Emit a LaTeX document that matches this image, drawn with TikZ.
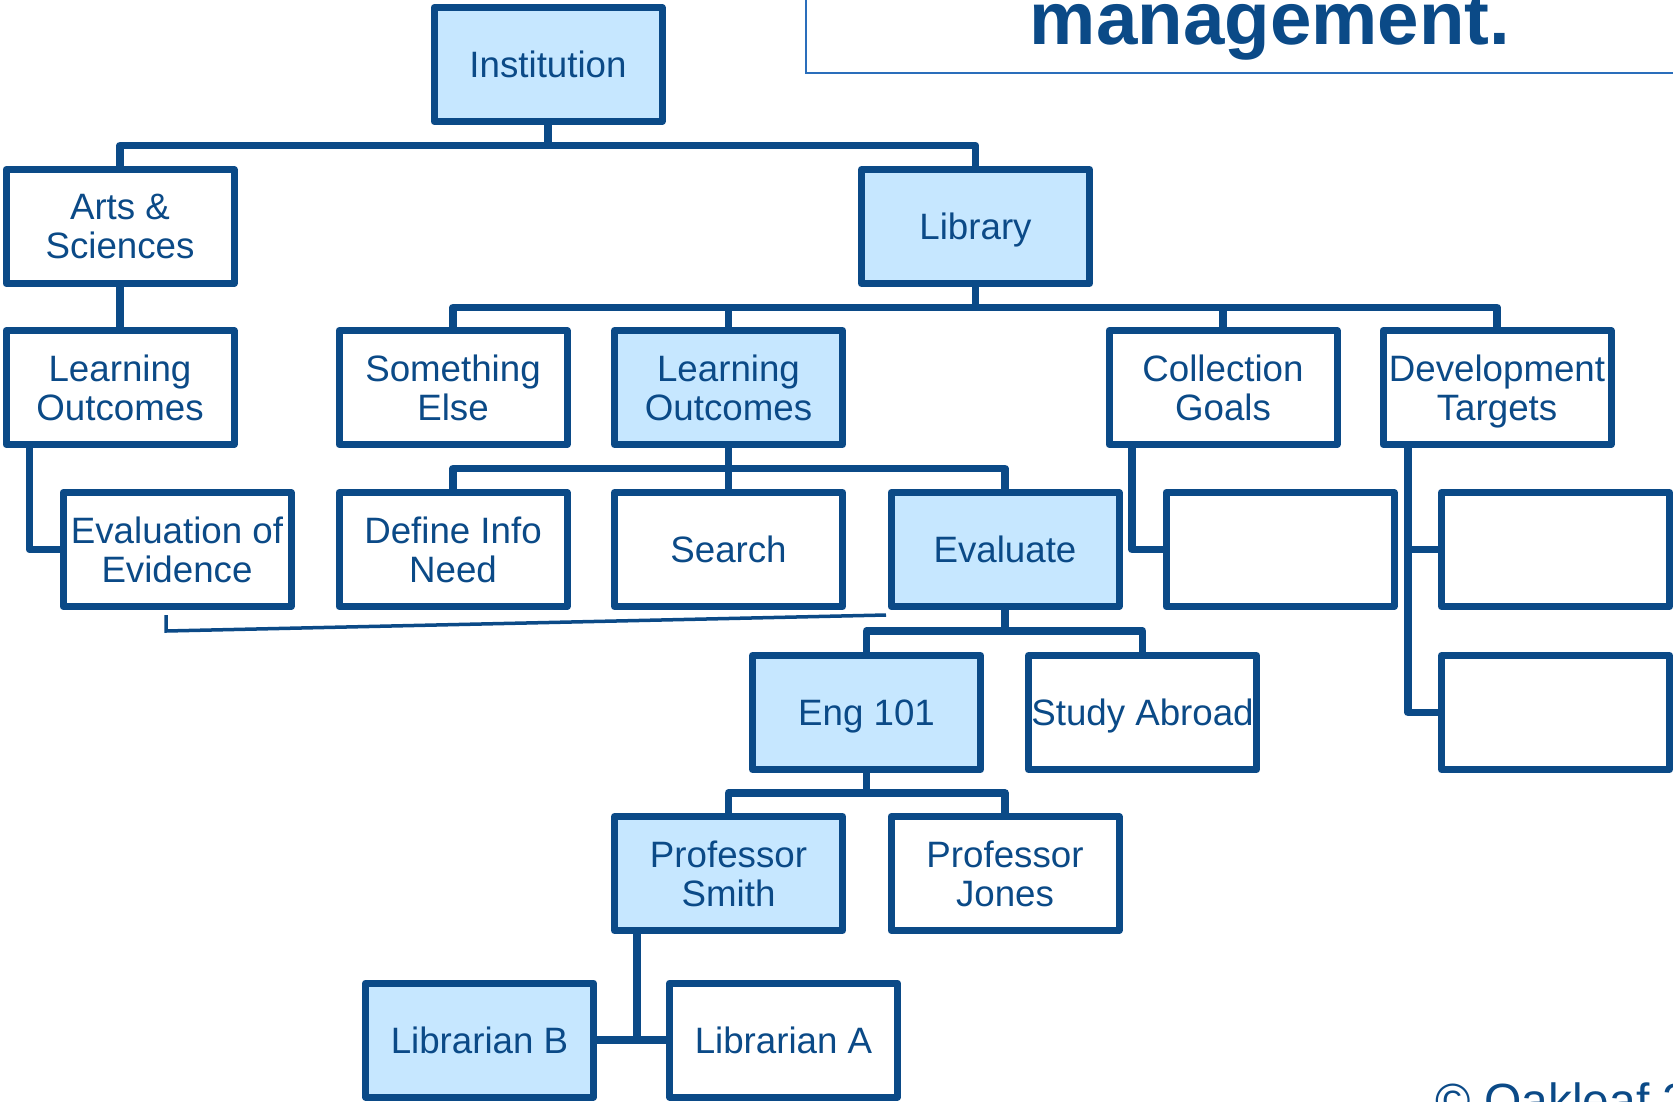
\documentclass[tikz,border=0pt]{standalone}
\usepackage{fontspec}
\setmainfont{Liberation Sans}
\definecolor{cdark}{HTML}{0B4A87}
\definecolor{cfill}{HTML}{C6E7FF}
\definecolor{ctitle}{HTML}{2A6EBB}
\tikzset{
  box/.style={draw=cdark, line width=7pt, line join=round, fill=white,
    minimum width=228pt, minimum height=114pt, inner sep=0pt, align=center,
    text depth=0pt,
    text=cdark, font=\fontsize{36.7}{39}\selectfont},
  hbox/.style={box, fill=cfill},
  conn/.style={draw=cdark, line width=7.5pt, line join=round},
  thinconn/.style={draw=cdark, line width=3.5pt},
}
\begin{document}
\begin{tikzpicture}[x=1pt,y=-1pt]
\useasboundingbox (0,0) rectangle (1673,1101);
% title box
\draw[ctitle, line width=2pt] (806,-10) rectangle (1690,73);
\node[anchor=base, text=cdark, font=\fontsize{74.5}{80}\selectfont\bfseries] (title) at (1270,44) {management.};
% bar levels
\coordinate (b1) at (0,145.5);
\coordinate (b2) at (0,307.5);
\coordinate (b3) at (0,468.5);
\coordinate (b4) at (0,631);
\coordinate (b5) at (0,793);
\coordinate (xl) at (29.5,0);
\coordinate (xc) at (1132,0);
\coordinate (xd) at (1408,0);
\coordinate (xs) at (637,0);
% nodes
\node[hbox] (inst) at (548,64.5) {Institution};
\node[box]  (as)   at (120,226.5) {Arts \&\\Sciences};
\node[hbox] (lib)  at (975.5,226.5) {Library};
\node[box]  (lol)  at (120,387.5) {Learning\\Outcomes};
\node[box]  (se)   at (453,387.5) {Something\\Else};
\node[hbox] (loc)  at (728.5,387.5) {Learning\\Outcomes};
\node[box]  (cg)   at (1223,387.5) {Collection\\Goals};
\node[box]  (dt)   at (1497,387.5) {Development\\Targets};
\node[box]  (ee)   at (177,549.5) {Evaluation of\\Evidence};
\node[box]  (din)  at (453,549.5) {Define Info\\Need};
\node[box]  (srch) at (728.5,549.5) {Search};
\node[hbox] (ev)   at (1005,549.5) {Evaluate};
\node[box]  (bk1)  at (1280,549.5) {};
\node[box]  (bk2)  at (1555.5,549.5) {};
\node[hbox] (eng)  at (866.5,712.5) {Eng 101};
\node[box]  (sa)   at (1142.5,712.5) {Study Abroad};
\node[box]  (bk3)  at (1555.5,712.5) {};
\node[hbox] (ps)   at (728.5,873.5) {Professor\\Smith};
\node[box]  (pj)   at (1005,873.5) {Professor\\Jones};
\node[hbox] (lb)   at (479.5,1040) {Librarian B};
\node[box]  (la)   at (783.5,1040) {Librarian A};
% connectors
\draw[conn] (inst.south) -- (inst.south |- b1);
\draw[conn] (as.north) -- (as.north |- b1) -- (lib.north |- b1) -- (lib.north);
\draw[conn] (lib.south) -- (lib.south |- b2);
\draw[conn] (se.north) -- (se.north |- b2) -- (dt.north |- b2) -- (dt.north);
\draw[conn] (loc.north) -- (loc.north |- b2);
\draw[conn] (cg.north) -- (cg.north |- b2);
\draw[conn] (as.south) -- (lol.north);
\draw[conn] (lol.south -| xl) -- (ee.west -| xl) -- (ee.west);
\draw[conn] (loc.south) -- (loc.south |- b3);
\draw[conn] (din.north) -- (din.north |- b3) -- (ev.north |- b3) -- (ev.north);
\draw[conn] (srch.north) -- (srch.north |- b3);
\draw[conn] (cg.south -| xc) -- (bk1.west -| xc) -- (bk1.west);
\draw[conn] (dt.south -| xd) -- (bk3.west -| xd) -- (bk3.west);
\draw[conn] (bk2.west -| xd) -- (bk2.west);
\draw[conn] (ev.south) -- (ev.south |- b4);
\draw[conn] (eng.north) -- (eng.north |- b4) -- (sa.north |- b4) -- (sa.north);
\draw[conn] (eng.south) -- (eng.south |- b5);
\draw[conn] (ps.north) -- (ps.north |- b5) -- (pj.north |- b5) -- (pj.north);
\draw[conn] (ps.south -| xs) -- (lb.east -| xs);
\draw[conn] (lb.east) -- (la.west);
% thin slanted line
\coordinate (t1) at (886,615);
\coordinate (t2) at (166,631);
\coordinate (t3) at (166,615);
\draw[thinconn] (t1) -- (t2) -- (t3);
% copyright
\node[anchor=base west, text=cdark, font=\fontsize{48}{52}\selectfont] (copy) at (1432,1117) {© Oakleaf 2};
\end{tikzpicture}
\end{document}
